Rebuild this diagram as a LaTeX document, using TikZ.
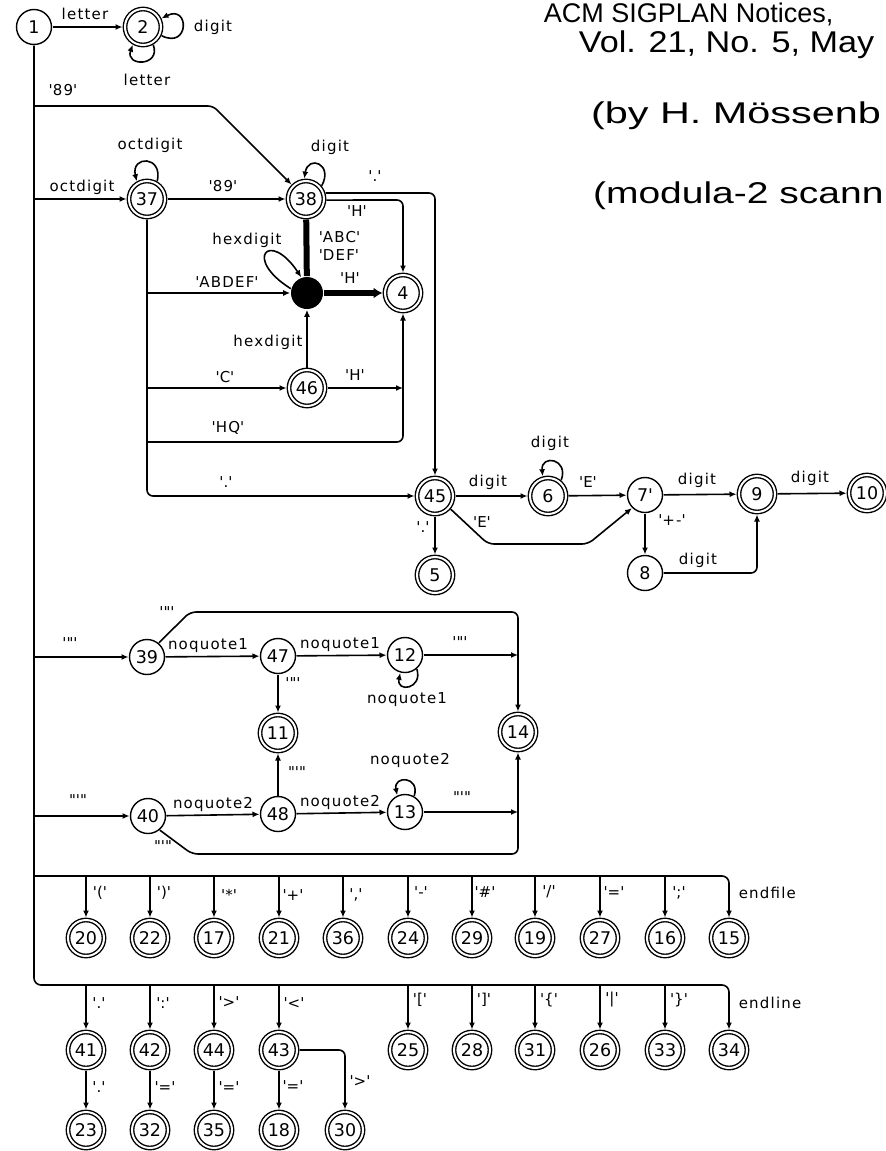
\documentclass[tikz,border=0pt]{standalone}
\usepackage{fontspec}
\usetikzlibrary{arrows.meta}
\newfontfamily\lblfont[LetterSpace=8]{DejaVu Sans}
\newfontfamily\numfont{DejaVu Sans}
\newfontfamily\handfont{Liberation Sans}
\newcommand{\qq}[1]{\textquotesingle#1\textquotesingle}
\tikzset{
  st/.style={circle,draw,line width=1.4pt,minimum size=35pt,inner sep=0pt,outer sep=1pt,font=\numfont\fontsize{17.5}{17.5}\selectfont},
  acc/.style={st,double,double distance=2pt,minimum size=36pt,outer sep=2.5pt},
  lbl/.style={inner sep=0pt,font=\lblfont\fontsize{15}{15}\selectfont},
  arr/.style={-{Latex[length=7pt,width=6pt]}},
  thk/.style={line width=6pt},
  hand/.style={inner sep=0pt,font=\handfont\fontsize{30}{30}\selectfont},
}
\begin{document}
\begin{tikzpicture}[x=1pt,y=-1pt,line width=1.6pt,line join=round]
\useasboundingbox (0,0) rectangle (886,1151);
\clip (0,0) rectangle (886,1151);
\fill[white] (0,0) rectangle (886,1151);

% handwritten note
\node[hand,anchor=base west,font=\handfont\fontsize{27}{27}\selectfont] (h1) at (543,22) {ACM SIGPLAN Notices,};
\node[hand,anchor=base west,xscale=1.14] (h2) at (578,52) {Vol. 21, No. 5, May};
\node[hand,anchor=base west,xscale=1.38] (h3) at (590,123) {(by H. Mössenb};
\node[hand,anchor=base west,xscale=1.3] (h4) at (592,203) {(modula-2 scann};

% states
\node[st]  (n1)  at (34,27) {1};
\node[acc] (n2)  at (143,27) {2};
\node[acc] (n37) at (147,199) {37};
\node[acc] (n38) at (306,199) {38};
\node[circle,fill=black,minimum size=32pt,inner sep=0pt] (dot) at (307,293) {};
\node[acc] (n4)  at (403,293) {4};
\node[acc] (n46) at (307,388) {46};
\node[acc] (n45) at (435,496) {45};
\node[acc] (n5)  at (435,575) {5};
\node[acc] (n6)  at (548,496) {6};
\node[st]  (n7)  at (645,495) {7\textquotesingle};
\node[acc] (n9)  at (757,494) {9};
\node[acc] (n10) at (867,493) {10};
\node[st]  (n8)  at (645,573) {8};
\node[st]  (n39) at (147,657) {39};
\node[st]  (n47) at (278,656) {47};
\node[st]  (n12) at (405,655) {12};
\node[acc] (n11) at (278,733) {11};
\node[acc] (n14) at (518,732) {14};
\node[st]  (n40) at (148,816) {40};
\node[st]  (n48) at (278,814) {48};
\node[st]  (n13) at (405,812) {13};
\foreach \n/\x in {20/86,22/150,17/214,21/279,36/343,24/408,29/472,19/535,27/600,16/665,15/729}
  \node[acc] (n\n) at (\x,938) {\n};
\foreach \n/\x in {41/86,42/150,44/214,43/279,25/408,28/472,31/535,26/600,33/665,34/729}
  \node[acc] (n\n) at (\x,1050) {\n};
\foreach \n/\x in {23/86,32/150,35/214,18/279,30/345}
  \node[acc] (n\n) at (\x,1130) {\n};

% junction points
\coordinate (t89) at (34,106);
\coordinate (t37) at (34,199);
\coordinate (t39) at (34,657);
\coordinate (t40) at (34,816);
\coordinate (tef) at (34,876);
\coordinate (cABDEF) at (147,293);
\coordinate (cC) at (147,388);
\coordinate (cHQ) at (147,442);
\coordinate (c46H) at (403,388);
\coordinate (c12) at (518,655);
\coordinate (c13) at (518,812);

% top part
\draw[arr] (n1) -- (n2);
\node[lbl] (l1) at (85,14) {letter};
\draw[arr] (n2.-25) .. controls +(28,14) and +(28,-14) .. (n2.25);
\node[lbl] (l2) at (213,27) {digit};
\draw[arr] (n2.-60) .. controls +(8,22) and +(-8,22) .. (n2.-120);
\node[lbl] (l3) at (147,80) {letter};
\draw[arr,rounded corners=5pt] (t89) -- (213,106) -- (n38.135);
\node[lbl] (l4) at (63,90) {\qq{89}};
\draw[arr] (t37) -- (n37);
\node[lbl] (l5) at (82,187) {octdigit};
\draw[arr] (n37.60) .. controls +(6,-26) and +(-6,-26) .. (n37.120);
\node[lbl] (l6) at (150,145) {octdigit};
\draw[arr] (n37) -- (n38);
\node[lbl] (l7) at (223,186) {\qq{89}};
\draw[arr] (n38.40) .. controls +(12,-22) and +(4,-24) .. (n38.95);
\node[lbl] (l8) at (330,147) {digit};
\draw[arr,rounded corners=6pt] (n38.17) -- (435,193) -- (n45);
\node[lbl] (l9) at (375,176) {\qq{.}};
\draw[arr,rounded corners=6pt] (n38.-3) -- (403,200) -- (n4);
\node[lbl] (l10) at (357,211) {\qq{H}};
\draw[thk] (n38) -- (dot);
\node[lbl,align=left,anchor=west] (l11) at (318,246) {\qq{ABC}\\[3pt]\qq{DEF}};
\draw[arr] (dot.165) .. controls +(-48,-30) and +(-32,-48) .. (dot.110);
\node[lbl] (l12) at (247,240) {hexdigit};
\draw[thk,-{Latex[length=9pt,width=11pt]}] (dot) -- (n4);
\node[lbl] (l13) at (350,278) {\qq{H}};

\draw[arr,rounded corners=6pt] (n37) -- (147,496) -- (n45);
\node[lbl] (l14) at (226,482) {\qq{.}};
\draw[arr] (cABDEF) -- (dot);
\node[lbl] (l15) at (227,282) {\qq{ABDEF}};
\draw[arr] (cC) -- (n46);
\node[lbl] (l16) at (225,377) {\qq{C}};
\draw[arr,rounded corners=6pt] (cHQ) -- (403,442) -- (n4);
\node[lbl] (l17) at (228,428) {\qq{HQ}};
\draw[arr] (n46) -- (dot);
\node[lbl] (l18) at (268,342) {hexdigit};
\draw[arr] (n46) -- (c46H);
\node[lbl] (l19) at (355,375) {\qq{H}};

% number part
\draw[arr] (n45) -- (n6);
\node[lbl] (l20) at (488,482) {digit};
\draw[arr] (n6.50) .. controls +(8,-22) and +(-2,-22) .. (n6.105);
\node[lbl] (l21) at (550,443) {digit};
\draw[arr] (n6) -- (n7);
\node[lbl] (l22) at (588,482) {\qq{E}};
\draw[arr,rounded corners=6pt] (n45.-40) -- (488,544) -- (588,544) -- (n7.-135);
\node[lbl] (l23) at (482,522) {\qq{E}};
\draw[arr] (n45) -- (n5);
\node[lbl] (l24) at (423,527) {\qq{.}};
\draw[arr] (n7) -- (n9);
\node[lbl] (l25) at (697,480) {digit};
\draw[arr] (n9) -- (n10);
\node[lbl] (l26) at (810,478) {digit};
\draw[arr] (n7) -- (n8);
\node[lbl] (l27) at (672,520) {\qq{+-}};
\draw[arr,rounded corners=6pt] (n8) -- (757,573) -- (n9);
\node[lbl] (l28) at (698,560) {digit};

% strings
\draw[arr] (t39) -- (n39);
\node[lbl] (l29) at (70,643) {\qq{"}};
\draw[arr,rounded corners=6pt] (n39.50) -- (190,612) -- (518,612) -- (n14);
\node[lbl] (l30) at (167,612) {\qq{"}};
\draw[arr] (n39) -- (n47);
\node[lbl] (l31) at (208,646) {noquote1};
\draw[arr] (n47) -- (n12);
\node[lbl] (l32) at (340,645) {noquote1};
\draw[arr] (n12.-50) .. controls +(6,20) and +(-4,20) .. (n12.-105);
\node[lbl] (l33) at (407,700) {noquote1};
\draw[arr] (n12) -- (c12);
\node[lbl] (l34) at (460,642) {\qq{"}};
\draw[arr] (n47) -- (n11);
\node[lbl] (l35) at (293,683) {\qq{"}};
\draw[arr] (n48) -- (n11);
\node[lbl] (l36) at (297,772) {"\textquotesingle"};
\draw[arr] (t40) -- (n40);
\node[lbl] (l37) at (78,800) {"\textquotesingle"};
\draw[arr] (n40) -- (n48);
\node[lbl] (l38) at (213,804) {noquote2};
\draw[arr] (n48) -- (n13);
\node[lbl] (l39) at (340,802) {noquote2};
\draw[arr] (n13.60) .. controls +(6,-20) and +(-4,-20) .. (n13.115);
\node[lbl] (l40) at (410,760) {noquote2};
\draw[arr] (n13) -- (c13);
\node[lbl] (l41) at (462,797) {"\textquotesingle"};
\draw[arr,rounded corners=6pt] (n40.-50) -- (192,854) -- (518,854) -- (n14);
\node[lbl] (l42) at (163,846) {"\textquotesingle"};

% buses
\draw[arr,rounded corners=7pt] (n1) -- (34,985) -- (729,985) -- (n34);
\draw[arr,rounded corners=7pt] (tef) -- (729,876) -- (n15);
\foreach \n/\x in {20/86,22/150,17/214,21/279,36/343,24/408,29/472,19/535,27/600,16/665} {
  \coordinate (b\n) at (\x,876);
  \draw[arr] (b\n) -- (n\n);
}
\foreach \n/\x in {41/86,42/150,44/214,43/279,25/408,28/472,31/535,26/600,33/665} {
  \coordinate (b\n) at (\x,985);
  \draw[arr] (b\n) -- (n\n);
}
\node[lbl] (e20) at (100,893) {\qq{(}};
\node[lbl] (e22) at (164,893) {\qq{)}};
\node[lbl] (e17) at (229,895) {\qq{*}};
\node[lbl] (e21) at (293,895) {\qq{+}};
\node[lbl] (e36) at (356,895) {\qq{,}};
\node[lbl] (e24) at (421,892) {\qq{-}};
\node[lbl] (e29) at (485,892) {\qq{\#}};
\node[lbl] (e19) at (549,892) {\qq{/}};
\node[lbl] (e27) at (614,892) {\qq{=}};
\node[lbl] (e16) at (679,893) {\qq{;}};
\node[lbl,anchor=west] (eef) at (738,893) {endfile};
\node[lbl] (f41) at (99,1003) {\qq{.}};
\node[lbl] (f42) at (163,1003) {\qq{:}};
\node[lbl] (f44) at (229,1002) {\qq{>}};
\node[lbl] (f43) at (294,1003) {\qq{<}};
\node[lbl] (f25) at (420,1000) {\qq{[}};
\node[lbl] (f28) at (484,1000) {\qq{]}};
\node[lbl] (f31) at (549,1000) {\qq{\{}};
\node[lbl] (f26) at (612,1000) {\qq{|}};
\node[lbl] (f33) at (679,1000) {\qq{\}}};
\node[lbl,anchor=west] (fel) at (738,1003) {endline};

\draw[arr] (n41) -- (n23);
\node[lbl] (g1) at (99,1087) {\qq{.}};
\draw[arr] (n42) -- (n32);
\node[lbl] (g2) at (165,1087) {\qq{=}};
\draw[arr] (n44) -- (n35);
\node[lbl] (g3) at (229,1087) {\qq{=}};
\draw[arr] (n43) -- (n18);
\node[lbl] (g4) at (293,1086) {\qq{=}};
\draw[arr,rounded corners=6pt] (n43) -- (345,1050) -- (n30);
\node[lbl] (g5) at (360,1081) {\qq{>}};
\end{tikzpicture}
\end{document}
